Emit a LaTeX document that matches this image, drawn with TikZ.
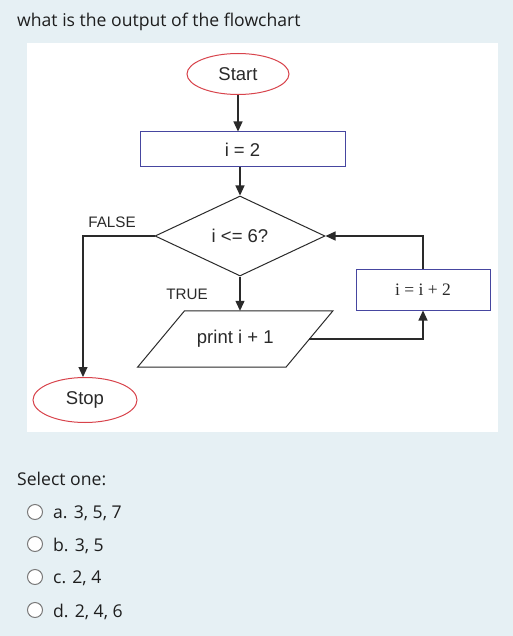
\documentclass[tikz,border=0pt]{standalone}
\usepackage{fontspec}
\setmainfont{Liberation Sans}
\newfontfamily\uifont{Open Sans}
\newfontfamily\serifnum{Liberation Serif}
\usetikzlibrary{shapes.geometric,arrows.meta}
\definecolor{pagebg}{HTML}{E6F0F4}
\definecolor{ovalred}{HTML}{D8434B}
\definecolor{boxblue}{HTML}{4646A0}
\definecolor{ink}{HTML}{2A2A2A}
\definecolor{uitext}{HTML}{1E1E1E}
\definecolor{radiogray}{HTML}{7A7A7A}
\tikzset{
  fc/.style={font=\fontsize{18.5}{20}\selectfont, text=ink},
  terminal/.style={fc, ellipse, draw=ovalred, line width=1pt, inner sep=0pt},
  procbox/.style={fc, rectangle, draw=boxblue, line width=1pt, inner sep=0pt},
  decision/.style={fc, diamond, draw=ink, line width=1pt, inner sep=0pt, minimum width=170pt, minimum height=80pt},
  flowline/.style={draw=ink, line width=1.2pt},
  flowarrow/.style={flowline, -{Triangle[length=10pt,width=9pt]}},
  lbl/.style={font=\fontsize{15.2}{17}\selectfont, text=ink},
  ui/.style={font=\uifont\fontsize{17.6}{20}\selectfont, text=uitext},
  radio/.style={circle, draw=radiogray, fill=white, line width=1pt, minimum size=15pt, inner sep=0pt}
}
\begin{document}
\begin{tikzpicture}[x=1pt,y=-1pt]
\fill[pagebg] (0,0) rectangle (513,636);
\useasboundingbox (0,0) rectangle (513,636);
\fill[white] (27,43) rectangle (498,432);

\node[ui, anchor=base west, inner xsep=0pt] (title) at (17,27) {what is the output of the flowchart};

\node[terminal, minimum width=102pt, minimum height=41pt] (start) at (238,74) {Start};
\node[procbox, minimum width=205pt, minimum height=35pt] (init) at (242.5,149.5) {i = 2};
\node[decision] (cond) at (240,236) {i <= 6?};
\node[fc, minimum width=148pt, minimum height=56pt, inner sep=0pt] (print) at (235.25,339) {print i + 1};
\draw[ink, line width=1pt] ([xshift=23.5pt]print.north west) -- ([xshift=23.5pt]print.north east)
   -- ([xshift=-23.5pt]print.south east) -- ([xshift=-23.5pt]print.south west) -- cycle;
\node[procbox, minimum width=134pt, minimum height=41pt, font=\serifnum\fontsize{17.5}{19}\selectfont] (inc) at (423,289.5) {i = i + 2};
\node[terminal, minimum width=104pt, minimum height=45pt] (stop) at (85,400) {Stop};

\node[lbl] (falselbl) at (112,222) {FALSE};
\node[lbl] (truelbl) at (187,294) {TRUE};

\draw[flowarrow] (start.south) -- (start.south |- init.north);
\draw[flowarrow] (init.south -| cond.north) -- (cond.north);
\draw[flowarrow] (cond.south) -- (cond.south |- print.north);
\draw[flowarrow] (cond.west) -| ([xshift=-2pt]stop.north);
\draw[flowarrow] (print.east) -| (inc.south);
\draw[flowarrow] (inc.north) |- (cond.east);

\node[ui, anchor=base west, inner xsep=0pt] (select) at (17,485) {Select one:};
\node[radio] (ra) at (35,512) {};
\node[radio] (rb) at (35,544) {};
\node[radio] (rc) at (35,577) {};
\node[radio] (rd) at (35,610) {};
\node[ui, anchor=base west, inner xsep=0pt] (oa) at (53,518) {a. 3, 5, 7};
\node[ui, anchor=base west, inner xsep=0pt] (ob) at (53,551) {b. 3, 5};
\node[ui, anchor=base west, inner xsep=0pt] (oc) at (53,583) {c. 2, 4};
\node[ui, anchor=base west, inner xsep=0pt] (od) at (53,617) {d. 2, 4, 6};
\end{tikzpicture}
\end{document}
